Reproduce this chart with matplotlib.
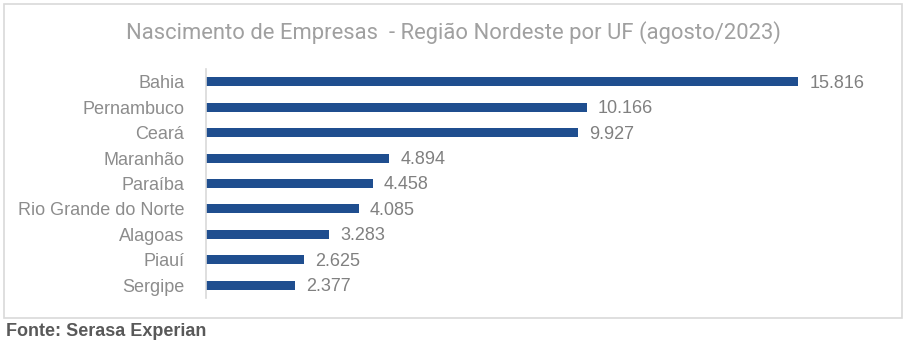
import matplotlib.pyplot as plt
from matplotlib.patches import Rectangle

# Data
estados = ['Bahia', 'Pernambuco', 'Ceará', 'Maranhão', 'Paraíba',
           'Rio Grande do Norte', 'Alagoas', 'Piauí', 'Sergipe']
nascimentos = [15816, 10166, 9927, 4894, 4458, 4085, 3283, 2625, 2377]
rotulos = ['15.816', '10.166', '9.927', '4.894', '4.458', '4.085', '3.283', '2.625', '2.377']

TITULO = 'Nascimento de Empresas  - Região Nordeste por UF (agosto/2023)'
FONTE = 'Fonte: Serasa Experian'

BAR_COLOR = '#1F4E8F'
W, H = 907, 343
ARIAL = ['Liberation Sans', 'DejaVu Sans']

plt.rcParams['font.family'] = ARIAL

fig = plt.figure(figsize=(W / 100, H / 100), dpi=100)

# light gray frame around the chart
fig.patches.append(Rectangle((4 / W, 1 - 318 / H), 898 / W, 314 / H,
                             transform=fig.transFigure, fill=False,
                             edgecolor='#D9D9D9', linewidth=1.2))

ax = fig.add_axes([206 / W, 1 - 297.8 / H, (880 - 206) / W, (297.8 - 69.2) / H])
y = list(range(len(estados)))
ax.barh(y, nascimentos, height=0.36, color=BAR_COLOR)
ax.set_ylim(len(estados) - 0.5, -0.5)
ax.set_xlim(0, 18000)

for yi, v, txt in zip(y, nascimentos, rotulos):
    ax.annotate(txt, (v, yi), xytext=(8, -1), textcoords='offset points',
                va='center', ha='left', fontsize=13, color='#808080')

ax.set_yticks(y)
ax.set_yticklabels(estados, fontsize=13, color='#8C8C8C')
ax.tick_params(axis='y', length=0, pad=15.5)
ax.set_xticks([])
for s in ['top', 'right', 'bottom']:
    ax.spines[s].set_visible(False)
ax.spines['left'].set_color('#D9D9D9')
ax.spines['left'].set_linewidth(1.2)

fig.text(453 / W, 1 - 33 / H, TITULO, ha='center', va='center',
         fontsize=15.8, color='#A0A0A0', family=['Roboto', 'DejaVu Sans'])
fig.text(6 / W, 1 - 331 / H, FONTE, ha='left', va='center',
         fontsize=13, fontweight='bold', color='#595959')

fig.savefig('out.png', dpi=100)
